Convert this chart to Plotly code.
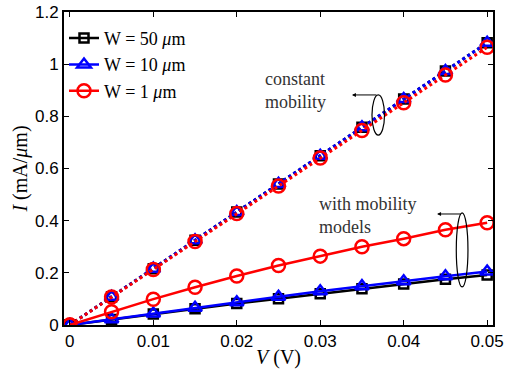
import plotly.graph_objects as go

V = [0, 0.005, 0.01, 0.015, 0.02, 0.025, 0.03, 0.035, 0.04, 0.045, 0.05]

# constant mobility (dotted)
I_const_w50 = [0, 0.108, 0.216, 0.325, 0.433, 0.541, 0.649, 0.758, 0.866, 0.974, 1.082]
I_const_w10 = [0, 0.108, 0.216, 0.325, 0.433, 0.541, 0.649, 0.758, 0.866, 0.974, 1.082]
I_const_w1 = [0, 0.107, 0.213, 0.32, 0.427, 0.533, 0.64, 0.746, 0.852, 0.958, 1.065]

# with mobility models (solid)
I_mob_w50 = [0, 0.021, 0.042, 0.062, 0.082, 0.101, 0.12, 0.139, 0.157, 0.175, 0.192]
I_mob_w10 = [0, 0.022, 0.044, 0.066, 0.087, 0.108, 0.129, 0.149, 0.168, 0.187, 0.205]
I_mob_w1 = [0, 0.051, 0.099, 0.145, 0.188, 0.228, 0.264, 0.3, 0.331, 0.365, 0.392]

names = ["W = 50 <i>μ</i>m", "W = 10 <i>μ</i>m", "W = 1 <i>μ</i>m"]
colors = ["black", "blue", "red"]
symbols = ["square-open", "triangle-up-open", "circle-open"]
msizes = [9, 12, 13]

fig = go.Figure()

const = [I_const_w50, I_const_w10, I_const_w1]
mob = [I_mob_w50, I_mob_w10, I_mob_w1]

for i in range(3):
    fig.add_trace(go.Scatter(
        x=V, y=const[i], mode="lines+markers", showlegend=False,
        line=dict(color=colors[i], width=3, dash="3px,3px"),
        marker=dict(symbol=symbols[i], size=msizes[i], color=colors[i],
                    line=dict(width=2.5, color=colors[i])),
    ))
for i in range(3):
    fig.add_trace(go.Scatter(
        x=V, y=mob[i], mode="lines+markers", name=names[i],
        line=dict(color=colors[i], width=2.5),
        marker=dict(symbol=symbols[i], size=msizes[i], color=colors[i],
                    line=dict(width=2.5, color=colors[i])),
    ))

serif = "Liberation Serif"
sans = "Liberation Sans"

fig.update_layout(
    width=505, height=371,
    margin=dict(l=64, r=12, t=12, b=46, autoexpand=False),
    plot_bgcolor="white", paper_bgcolor="white",
    showlegend=True,
    legend=dict(x=0.0, y=0.975, xanchor="left", yanchor="top",
                bgcolor="rgba(255,255,255,0)", font=dict(family=serif, size=18, color="black"),
                tracegroupgap=0, itemwidth=30),
    xaxis=dict(range=[-0.0007, 0.0507], tickvals=[0, 0.01, 0.02, 0.03, 0.04, 0.05],
               ticktext=["0", "0.01", "0.02", "0.03", "0.04", "0.05"],
               ticks="inside", ticklen=5, tickwidth=1, tickcolor="black",
               showline=True, linecolor="black", linewidth=2, mirror="ticks",
               showgrid=False, zeroline=False, automargin=False,
               tickfont=dict(family=sans, size=17, color="black"),
               title=dict(text="<i>V</i> (V)", font=dict(family=serif, size=20, color="black"), standoff=0)),
    yaxis=dict(range=[0, 1.2], tickvals=[0, 0.2, 0.4, 0.6, 0.8, 1, 1.2],
               ticktext=["0", "0.2", "0.4", "0.6", "0.8", "1", "1.2"],
               ticks="inside", ticklen=5, tickwidth=1, tickcolor="black",
               showline=True, linecolor="black", linewidth=2, mirror="ticks",
               showgrid=False, zeroline=False, automargin=False,
               tickfont=dict(family=sans, size=17, color="black"),
               title=dict(text="<i>I</i> (mA/<i>μ</i>m)", font=dict(family=serif, size=20, color="black"), standoff=2)),
)

# ellipses
fig.add_shape(type="circle", xref="x", yref="y", x0=0.0362, x1=0.0377, y0=0.728, y1=0.882,
              line=dict(color="black", width=1.2))
fig.add_shape(type="circle", xref="x", yref="y", x0=0.0463, x1=0.0477, y0=0.146, y1=0.430,
              line=dict(color="black", width=1.2))

# arrows
fig.add_annotation(x=0.0338, y=0.882, ax=26, ay=0, xref="x", yref="y", text="",
                   showarrow=True, arrowhead=2, arrowsize=0.8, arrowwidth=1, arrowcolor="black")
fig.add_annotation(x=0.0440, y=0.4256, ax=25, ay=0, xref="x", yref="y", text="",
                   showarrow=True, arrowhead=2, arrowsize=0.8, arrowwidth=1, arrowcolor="black")

# texts
fig.add_annotation(x=0.0232, y=0.99, xref="x", yref="y", xanchor="left", yanchor="top",
                   text="constant<br>mobility", showarrow=False, align="left",
                   font=dict(family=serif, size=18, color="#333333"))
fig.add_annotation(x=0.0296, y=0.51, xref="x", yref="y", xanchor="left", yanchor="top",
                   text="with mobility<br>models", showarrow=False, align="left",
                   font=dict(family=serif, size=18, color="#333333"))

fig.write_html("out.html", config={"displayModeBar": False},
               post_script="document.body.style.margin='0';document.body.style.overflow='hidden';")
